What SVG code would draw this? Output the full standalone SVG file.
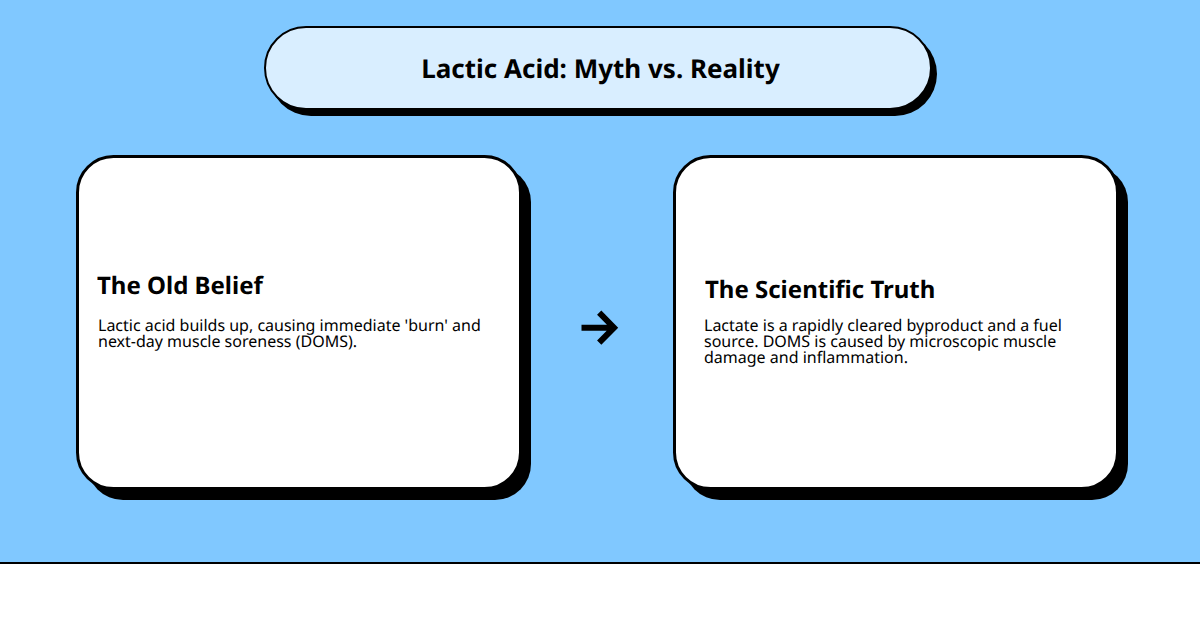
<svg xmlns="http://www.w3.org/2000/svg" width="1200" height="630" viewBox="0 0 1200 630">
<style>
.sh{fill:#000}
.box{stroke:#000;stroke-width:3}
text{font-family:"Noto Sans","Open Sans",sans-serif;fill:#000;text-rendering:geometricPrecision;opacity:.999}
.t{font-weight:700;font-size:24px}
.b{font-size:16px}
</style>
<rect width="1200" height="630" fill="#fff"/>
<rect width="1200" height="562" fill="#80c8ff"/>
<rect y="562" width="1200" height="2" fill="#000"/>
<g id="title">
<rect class="sh" x="269" y="32" width="668" height="84" rx="42"/>
<rect x="265" y="27" width="666" height="82" rx="41" fill="#d9eeff" stroke="#000" stroke-width="2"/>
<text x="600.500" y="78" text-anchor="middle" font-size="26" font-weight="700">Lactic Acid: Myth vs. Reality</text>
</g>
<g id="old-belief">
<rect class="sh" x="87" y="166" width="444" height="334" rx="36"/>
<rect class="box" x="77.500" y="156.500" width="443" height="332" rx="36" fill="#fff"/>
<text class="t" x="97" y="294">The Old Belief</text>
<text class="b" x="98" y="331">Lactic acid builds up, causing immediate 'burn' and</text>
<text class="b" x="98" y="347">next-day muscle soreness (DOMS).</text>
</g>
<g id="truth">
<rect class="sh" x="684" y="166" width="444" height="334" rx="36"/>
<rect class="box" x="674.500" y="156.500" width="443" height="332" rx="36" fill="#fff"/>
<text class="t" x="705" y="298">The Scientific Truth</text>
<text class="b" x="704" y="331">Lactate is a rapidly cleared byproduct and a fuel</text>
<text class="b" x="704" y="347">source. DOMS is caused by microscopic muscle</text>
<text class="b" x="704" y="363">damage and inflammation.</text>
</g>
<g id="connectors">
<path d="M581.500 327.700H612M599.200 312.700L614 327.700L599.200 342.700" fill="none" stroke="#000" stroke-width="6"/>
</g>
</svg>
